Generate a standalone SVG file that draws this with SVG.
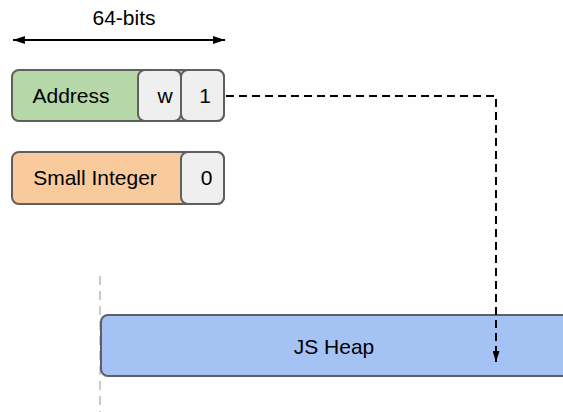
<svg xmlns="http://www.w3.org/2000/svg" width="563" height="412" viewBox="0 0 563 412">
  <defs>
    <marker id="head" viewBox="0 0 12 8" refX="12" refY="4" markerWidth="12" markerHeight="8" orient="auto-start-reverse" markerUnits="userSpaceOnUse">
      <path d="M0,0 L12,4 L0,8 z" fill="#000"/>
    </marker>
    <marker id="headSmall" viewBox="0 0 11 7" refX="11" refY="3.5" markerWidth="11" markerHeight="7" orient="auto" markerUnits="userSpaceOnUse">
      <path d="M0,0 L11,3.5 L0,7 z" fill="#000"/>
    </marker>
  </defs>
  <style>
    text { font-family: "Liberation Sans", Arial, sans-serif; font-size: 21px; fill: #000; }
    .box { stroke: #5f5f5f; stroke-width: 2; }
    .addr { fill: #b6d7a8; }
    .smi { fill: #f9cb9c; }
    .tag { fill: #efefef; }
    .heap { fill: #a4c2f4; }
    .conn { fill: none; stroke: #000; stroke-width: 2; }
  </style>
  <rect width="563" height="412" fill="#fff"/>

  <!-- width marker -->
  <g id="width-label">
    <text x="124" y="25" text-anchor="middle">64-bits</text>
    <line class="conn" x1="13" y1="40" x2="225" y2="40" marker-start="url(#head)" marker-end="url(#head)"/>
  </g>

  <!-- boundary guide -->
  <line x1="100" y1="276" x2="100" y2="412" stroke="#cccccc" stroke-width="2" stroke-dasharray="9,6"/>

  <g id="address">
    <rect class="box addr" x="12" y="70" width="212" height="51" rx="7"/>
    <text x="71" y="103" text-anchor="middle">Address</text>
  </g>
  <g id="tag-w">
    <rect class="box tag" x="138" y="70" width="43" height="51" rx="7"/>
    <text x="165" y="103" text-anchor="middle">w</text>
  </g>
  <g id="tag-1">
    <rect class="box tag" x="181" y="70" width="43" height="51" rx="7"/>
    <text x="205" y="103" text-anchor="middle">1</text>
  </g>

  <g id="small-integer">
    <rect class="box smi" x="12" y="152" width="212" height="52" rx="7"/>
    <text x="95" y="185" text-anchor="middle">Small Integer</text>
  </g>
  <g id="tag-0">
    <rect class="box tag" x="181" y="152" width="43" height="52" rx="7"/>
    <text x="206.5" y="185" text-anchor="middle">0</text>
  </g>

  <g id="js-heap">
    <rect class="box heap" x="101" y="315" width="472" height="61" rx="7"/>
    <text x="334" y="354" text-anchor="middle">JS Heap</text>
  </g>

  <g id="connectors">
    <path class="conn" d="M226,96 H496 V362" stroke-dasharray="8,5" marker-end="url(#headSmall)"/>
  </g>
</svg>
